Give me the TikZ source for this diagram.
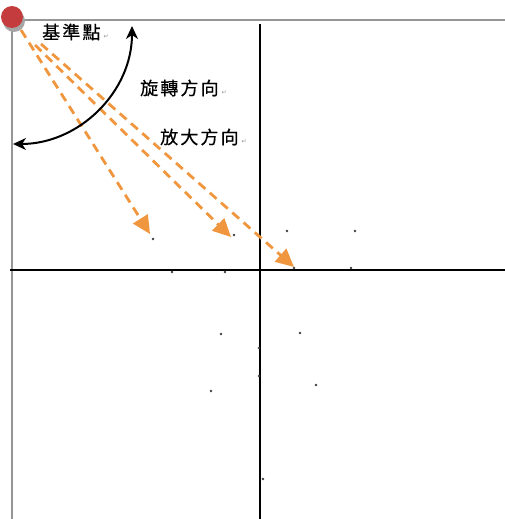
\documentclass[tikz,border=0pt]{standalone}
\usepackage{fontspec}
\usetikzlibrary{arrows.meta}
\newfontfamily\cjk[LetterSpace=12,FakeBold=0.6]{Noto Sans CJK TC}
\newfontfamily\symf{DejaVu Sans}
\definecolor{dashorange}{RGB}{240,150,62}
\definecolor{dotred}{RGB}{196,60,62}
\definecolor{framegray}{RGB}{150,150,150}
\tikzset{
  axisline/.style={line width=2pt, black},
  frameline/.style={line width=1.5pt, framegray},
  zoomarrow/.style={dashorange, line width=2.8pt, dash pattern=on 9pt off 6pt,
    -{Triangle[length=18pt,width=17pt]}},
  turnarrow/.style={black, line width=2pt,
    {Stealth[length=13pt,width=12pt,inset=4pt]}-{Stealth[length=13pt,width=12pt,inset=4pt]}},
  pt/.style={circle, fill=black!75, inner sep=0pt, minimum size=2.6pt},
  lbl/.style={anchor=west, inner sep=0pt, font=\cjk\fontsize{18}{18}\selectfont},
}
\newcommand{\retmark}{\,{\symf\fontsize{6}{6}\selectfont\color{black!45}↵}}
\begin{document}
\begin{tikzpicture}[x=1pt,y=-1pt]
\useasboundingbox (0,0) rectangle (505,519);
% frame
\draw[frameline] (12,20) -- (505,20);
\draw[frameline] (12,20) -- (12,519);
% axes
\draw[axisline] (260,24) -- (260,519);
\draw[axisline] (10,270) -- (505,270);
% base point
\fill[black!35] (14,21) circle (11);
\node[circle, fill=dotred, minimum size=22pt, inner sep=0pt] (base) at (12,17) {};
% labels
\node[lbl] (l1) at (42,32) {基準點\retmark};
\node[lbl] (l2) at (140,88) {旋轉方向\retmark};
\node[lbl] (l3) at (160,137) {放大方向\retmark};
% dots
\foreach \n/\x/\y in {1/153/239, 2/234/235, 3/287/231, 4/355/231, 5/294/268, 6/351/268,
  7/172/272, 8/225/272, 9/221/334, 10/300/333, 11/259/348, 12/259/376,
  13/211/391, 14/316/385, 15/263/479}
  \node[pt] (p\n) at (\x,\y) {};
% dashed zoom arrows
\coordinate (s1) at (21,30);
\coordinate (s2) at (35,45);
\coordinate (s3) at (41,44);
\coordinate (t1) at (150,234);
\coordinate (t2) at (231,237);
\coordinate (t3) at (294,267);
\draw[zoomarrow] (s1) -- (t1);
\draw[zoomarrow] (s2) -- (t2);
\draw[zoomarrow] (s3) -- (t3);
% rotation arrow
\coordinate (r1) at (132,26);
\coordinate (r2) at (13,144);
\draw[turnarrow] (r1) .. controls (132,92) and (79,144) .. (r2);
\end{tikzpicture}
\end{document}
